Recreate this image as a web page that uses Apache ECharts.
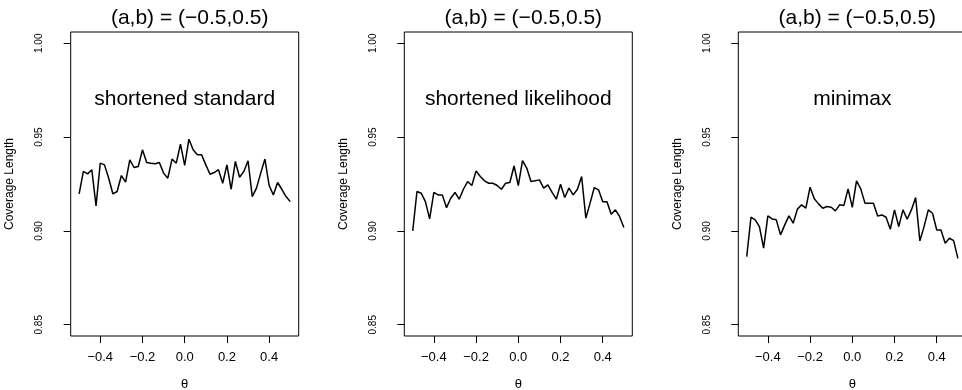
<!DOCTYPE html>
<html>
<head>
<meta charset="utf-8">
<script src="https://cdn.jsdelivr.net/npm/echarts@6/dist/echarts.min.js"></script>
<style>
html,body{margin:0;padding:0;background:#fff;}
#chart{width:962px;height:390px;}
</style>
</head>
<body>
<div id="chart"></div>
<script>
// ---- data ----
const theta = [-0.50,-0.48,-0.46,-0.44,-0.42,-0.40,-0.38,-0.36,-0.34,-0.32,
  -0.30,-0.28,-0.26,-0.24,-0.22,-0.20,-0.18,-0.16,-0.14,-0.12,
  -0.10,-0.08,-0.06,-0.04,-0.02,0.00,0.02,0.04,0.06,0.08,
  0.10,0.12,0.14,0.16,0.18,0.20,0.22,0.24,0.26,0.28,
  0.30,0.32,0.34,0.36,0.38,0.40,0.42,0.44,0.46,0.48,0.50];

const shortenedStandard = [0.9197,0.9317,0.9304,0.9326,0.9133,0.9361,0.9352,0.9281,0.9197,0.9210,
  0.9295,0.9260,0.9379,0.9338,0.9343,0.9432,0.9365,0.9361,0.9358,0.9365,
  0.9308,0.9281,0.9383,0.9361,0.9462,0.9349,0.9489,0.9432,0.9406,0.9406,
  0.9352,0.9302,0.9311,0.9326,0.9254,0.9352,0.9222,0.9370,0.9286,0.9317,
  0.9374,0.9183,0.9228,0.9308,0.9383,0.9242,0.9192,0.9258,0.9222,0.9183,0.9156];

const shortenedLikelihood = [0.9000,0.9210,0.9201,0.9156,0.9064,0.9205,0.9192,0.9192,0.9124,0.9174,
  0.9205,0.9169,0.9222,0.9263,0.9242,0.9320,0.9290,0.9267,0.9254,0.9254,
  0.9242,0.9222,0.9254,0.9258,0.9347,0.9242,0.9375,0.9335,0.9263,0.9267,
  0.9272,0.9228,0.9245,0.9205,0.9169,0.9249,0.9178,0.9228,0.9192,0.9222,
  0.9290,0.9068,0.9148,0.9231,0.9219,0.9156,0.9156,0.9089,0.9112,0.9076,0.9018];

const minimax = [0.8863,0.9073,0.9059,0.9023,0.8908,0.9080,0.9064,0.9059,0.8979,0.9032,
  0.9080,0.9041,0.9116,0.9139,0.9121,0.9233,0.9171,0.9144,0.9121,0.9130,
  0.9126,0.9107,0.9139,0.9135,0.9224,0.9125,0.9267,0.9224,0.9148,0.9148,
  0.9148,0.9080,0.9085,0.9073,0.9009,0.9112,0.9023,0.9112,0.9062,0.9112,
  0.9178,0.8947,0.9023,0.9112,0.9094,0.9005,0.9005,0.8934,0.8961,0.8948,0.8854];

const panelTitles = ['(a,b) = (\u22120.5,0.5)','(a,b) = (\u22120.5,0.5)','(a,b) = (\u22120.5,0.5)'];
const panelLabels = ['shortened standard','shortened likelihood','minimax'];
const xTicks = [-0.4,-0.2,0.0,0.2,0.4];
const yTicks = [0.85,0.90,0.95,1.00];
const yName = 'Coverage Length';
const xName = '\u03b8';
const seriesList = [shortenedStandard, shortenedLikelihood, minimax];

// ---- layout ----
const FONT = '"Liberation Sans", Arial, Helvetica, sans-serif';
const lefts = [70.7, 404.3, 738.3];
const boxW = 228, boxTop = 32, boxH = 304;

const grids = [], xAxes = [], yAxes = [], series = [], titles = [];
lefts.forEach((l, i) => {
  grids.push({left: l, top: boxTop, width: boxW, height: boxH, show: true,
    borderColor: '#000', borderWidth: 1, backgroundColor: 'transparent',
    containLabel: false, outerBoundsMode: 'none'});
  xAxes.push({type: 'value', gridIndex: i, min: -0.54, max: 0.54, position: 'bottom',
    axisLine: {show: false, onZero: false},
    axisTick: {show: true, customValues: xTicks, length: 7, lineStyle: {color: '#000'}},
    axisLabel: {customValues: xTicks, margin: 15, color: '#000', fontSize: 13, fontFamily: FONT,
      formatter: v => (v < 0 ? '\u2212' : '') + Math.abs(v).toFixed(1)},
    splitLine: {show: false},
    name: xName, nameLocation: 'middle', nameGap: 42,
    nameTextStyle: {color: '#000', fontSize: 13, fontFamily: FONT}
  });
  yAxes.push({type: 'value', gridIndex: i, min: 0.844, max: 1.006, position: 'left',
    axisLine: {show: false, onZero: false},
    axisTick: {show: true, customValues: yTicks, length: 7, lineStyle: {color: '#000'}},
    axisLabel: {customValues: yTicks, rotate: 90, margin: 26, color: '#000', fontSize: 10, fontFamily: FONT,
      formatter: v => v.toFixed(2)},
    splitLine: {show: false},
    name: yName, nameLocation: 'middle', nameRotate: 90, nameGap: 55,
    nameTextStyle: {color: '#000', fontSize: 12, fontFamily: FONT}
  });
  series.push({type: 'line', xAxisIndex: i, yAxisIndex: i, showSymbol: false, animation: false,
    lineStyle: {color: '#000', width: 1.5},
    data: theta.map((t, k) => [t, seriesList[i][k]]),
    markPoint: {symbol: 'rect', symbolSize: 1, itemStyle: {color: 'transparent'}, animation: false,
      label: {show: true, position: 'inside', formatter: panelLabels[i], color: '#000', fontSize: 21, fontFamily: FONT},
      data: [{coord: [0, 0.97]}]}
  });
  titles.push({text: panelTitles[i], left: l + boxW / 2, textAlign: 'center', top: 3,
    textStyle: {color: '#000', fontSize: 21, fontWeight: 'normal', fontFamily: FONT}});
});

const chart = echarts.init(document.getElementById('chart'), null, {renderer: 'canvas'});
chart.setOption({
  animation: false,
  backgroundColor: '#fff',
  title: titles,
  grid: grids,
  xAxis: xAxes,
  yAxis: yAxes,
  series: series
});
</script>
</body>
</html>
